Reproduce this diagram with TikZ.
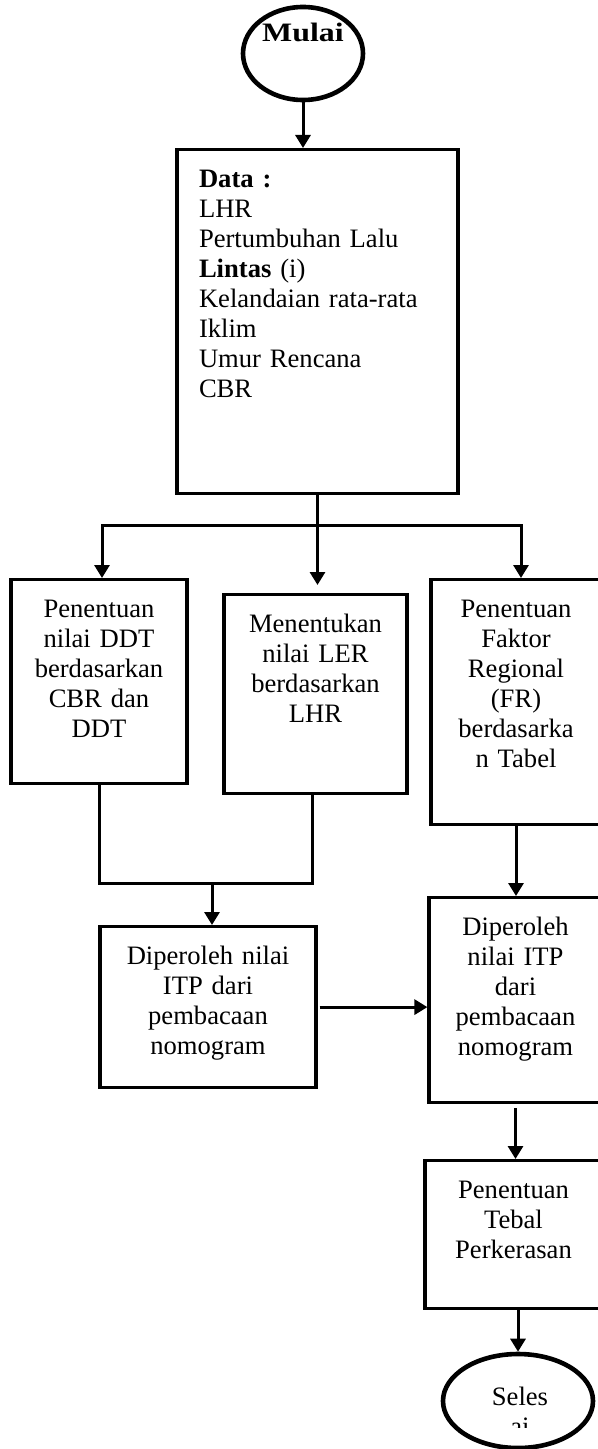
\documentclass[tikz,border=0pt]{standalone}
\usepackage{fontspec}
\setmainfont{Liberation Serif}
\usepackage{xcolor}
\usepackage{tikz}
\usetikzlibrary{shapes.geometric, arrows.meta}

\tikzset{
  kotak/.style 2 args={draw, line width=1.6pt, align=center, inner sep=0pt,
    text height=18.9pt, text width=#1, text depth=#2, anchor=north},
  elips/.style={draw, ellipse, line width=2.3pt, inner sep=0pt},
  garis/.style={line width=1.5pt}
}

\begin{document}
\begin{tikzpicture}[x=0.5pt, y=-0.5pt, >={Triangle[width=7.5pt,length=6.5pt]},
  font=\fontsize{13.3}{15}\selectfont]
\useasboundingbox (0,0) rectangle (598,1449);
% Simpul
\node[elips, minimum width=60pt, minimum height=46.5pt, text height=9pt, text depth=20.7pt,
  font=\fontsize{13.3}{15}\selectfont\bfseries] (mulai) at (303,53.5) {\scalebox{1.2}[1]{Mulai}};
\node[kotak={118.5pt}{153.1pt}, align=left, inner xsep=11pt] (data) at (317.5,148)
  {\textbf{Data :}\\LHR\\Pertumbuhan Lalu\\\textbf{Lintas} (i)\\Kelandaian rata-rata\\Iklim\\Umur Rencana\\CBR};
\node[kotak={88pt}{83.1pt}] (ddt) at (99,578) {Penentuan\\nilai DDT\\berdasarkan\\CBR dan\\DDT};
\node[kotak={91.5pt}{80.6pt}] (ler) at (315.5,593) {Menentukan\\nilai LER\\berdasarkan\\LHR};
\node[kotak={85pt}{103.6pt}] (fr) at (516,578) {Penentuan\\Faktor\\Regional\\(FR)\\berdasarka\\n Tabel};
\node[kotak={108pt}{61.6pt}] (itp1) at (208,925) {Diperoleh nilai\\ITP dari\\pembacaan\\nomogram};
\node[kotak={86.5pt}{83.6pt}] (itp2) at (515.5,896) {Diperoleh\\nilai ITP\\dari\\pembacaan\\nomogram};
\node[kotak={88.5pt}{55.1pt}] (tebal) at (513.5,1159) {Penentuan\\Tebal\\Perkerasan};
\node[elips, minimum width=75pt, minimum height=47pt] (selesai) at (518,1401) {};
\begin{scope}
  \clip (425,1340) rectangle (598,1427);
  \node[text width=75pt, align=center, inner sep=0pt, anchor=base] (teksselesai) at (520,1405.8) {Seles\\ai};
\end{scope}
% Panah
\coordinate (cabang) at (317.5,525);
\coordinate (gabung) at (212,883);
\draw[garis, ->] (mulai.south) -- (mulai.south |- data.north);
\draw[garis] (data.south) -- (cabang);
\draw[garis, ->] (cabang) -| ([xshift=1.5pt]ddt.north);
\draw[garis, ->] (cabang) -| ([xshift=2.5pt]fr.north);
\draw[garis, ->, shorten >=4pt] (cabang) -- (cabang |- ler.north);
\draw[garis] (ddt.south) |- (gabung) -| ([xshift=-1.75pt]ler.south);
\draw[garis, ->] (gabung) -- (gabung |- itp1.north);
\draw[garis, ->] (fr.south) -- (fr.south |- itp2.north);
\draw[garis, ->, shorten <=1pt] (itp1.east) -- (itp1.east -| itp2.west);
\draw[garis, ->, shorten <=2pt] (itp2.south) -- (itp2.south |- tebal.north);
\draw[garis, ->] (selesai.north |- tebal.south) -- (selesai.north);
\end{tikzpicture}
\end{document}
